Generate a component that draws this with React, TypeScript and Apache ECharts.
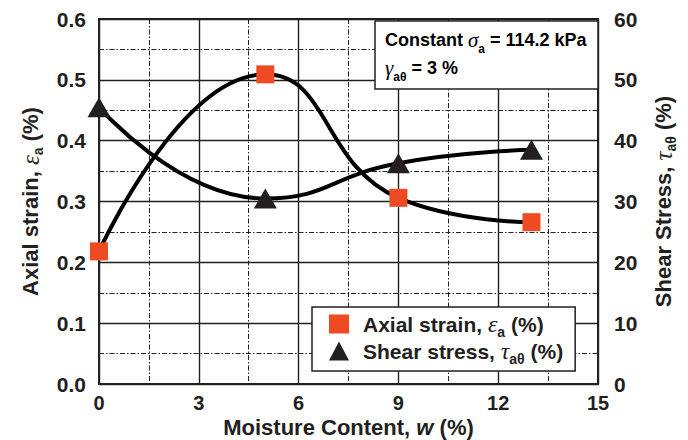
import React, { useEffect, useRef } from "react";
import * as echarts from "echarts";

const moisture = [0, 5, 9, 13];
const axialStrain = [0.218, 0.509, 0.306, 0.266];
const shearStress = [45.5, 30.5, 36.3, 38.5];

const INK = "#231F20";
const ORANGE = "#EF4B23";

const richSet = (size: number, sub: number, lh: number) => ({
  b: { fontFamily: "Liberation Sans", fontWeight: "bold", fontSize: size, color: INK, lineHeight: lh },
  p: { fontFamily: "Liberation Sans", fontWeight: "bold", fontSize: size, color: INK, lineHeight: lh, padding: [0, 0, 0, 9] },
  g: { fontFamily: "Liberation Serif", fontStyle: "italic", fontSize: size + 3, color: INK, lineHeight: lh },
  w: { fontFamily: "Liberation Sans", fontWeight: "bold", fontStyle: "italic", fontSize: size, color: INK, lineHeight: lh },
  s: { fontFamily: "Liberation Sans", fontWeight: "bold", fontSize: sub, color: INK, lineHeight: sub + 1, verticalAlign: "bottom" },
});

export default function App() {
  const ref = useRef<HTMLDivElement>(null);
  useEffect(() => {
    const chart = echarts.init(ref.current!, null, { renderer: "svg" });
    const labelStyle = { fontFamily: "Liberation Sans", fontWeight: "bold", fontSize: 21, color: INK };
    const gridLine = { show: true, lineStyle: { color: INK, width: 1.4, type: "solid" } };
    const minorLine = { show: true, lineStyle: { color: INK, width: 1, type: [5, 2, 1.5, 2] } };
    chart.setOption({
      animation: false,
      grid: {
        left: 99, top: 19, width: 499, height: 365, show: true,
        borderColor: INK, borderWidth: 2, backgroundColor: "transparent",
        containLabel: false, outerBoundsMode: "none",
      },
      xAxis: {
        type: "value", min: 0, max: 15, interval: 3,
        name: "{b|Moisture Content, }{w|w}{b| (%)}",
        nameLocation: "middle", nameGap: 32, nameMoveOverlap: false,
        nameTextStyle: { rich: richSet(22, 14, 22) },
        axisLine: { show: true, lineStyle: { color: INK, width: 2 } },
        axisTick: { show: false },
        axisLabel: { ...labelStyle, fontSize: 20, lineHeight: 22, margin: 8 },
        splitLine: gridLine,
        minorTick: { show: false, splitNumber: 2 },
        minorSplitLine: minorLine,
      },
      yAxis: [
        {
          type: "value", min: 0, max: 0.6, interval: 0.1, position: "left",
          name: "{b|Axial strain, }{g|ε}{s|a}{b| (%)}",
          nameLocation: "middle", nameRotate: 90, nameGap: 54,
          nameTextStyle: { rich: richSet(22, 14, 30) },
          axisLine: { show: true, lineStyle: { color: INK, width: 2 } },
          axisTick: { show: false },
          axisLabel: { ...labelStyle, margin: 13, formatter: (v: number) => v.toFixed(1) },
          splitLine: gridLine,
          minorTick: { show: false, splitNumber: 2 },
          minorSplitLine: minorLine,
        },
        {
          type: "value", min: 0, max: 60, interval: 10, position: "right",
          name: "{b|Shear Stress, }{g|τ}{s|aθ}{b| (%)}",
          nameLocation: "middle", nameRotate: 90, nameGap: 50,
          nameTextStyle: { rich: richSet(22, 14, 30) },
          axisLine: { show: true, lineStyle: { color: INK, width: 2 } },
          axisTick: { show: false },
          axisLabel: { ...labelStyle, margin: 16 },
          splitLine: { show: false },
        },
      ],
      legend: {
        orient: "vertical", left: 312, top: 307,
        padding: [5, 12, 5, 17], itemGap: 0,
        itemWidth: 20, itemHeight: 19,
        backgroundColor: "#fff", borderColor: INK, borderWidth: 1.5,
        data: [
          { name: "Axial strain", icon: "rect" },
          { name: "Shear stress", icon: "triangle" },
        ],
        formatter: (name: string) =>
          name === "Axial strain"
            ? "{p|Axial strain, }{g|ε}{s|a}{b| (%)}"
            : "{p|Shear stress, }{g|τ}{s|aθ}{b| (%)}",
        textStyle: { rich: richSet(21, 14, 30) },
      },
      graphic: [
        {
          type: "rect", z: 100,
          shape: { x: 375, y: 21, width: 223, height: 68 },
          style: { fill: "#fff", stroke: INK, lineWidth: 1.5 },
        },
        {
          type: "text", z: 101, x: 385, y: 40,
          style: {
            text: "{b|Constant }{g|σ}{s|a}{b| = 114.2 kPa}",
            rich: richSet(18, 12, 30),
            verticalAlign: "middle", align: "left",
          },
        },
        {
          type: "text", z: 101, x: 385, y: 68,
          style: {
            text: "{g|γ}{s|aθ}{b| = 3 %}",
            rich: richSet(18, 12, 30),
            verticalAlign: "middle", align: "left",
          },
        },
      ],
      series: [
        {
          name: "Axial strain", type: "line", yAxisIndex: 0, smooth: 0.5,
          data: moisture.map((x, i) => [x, axialStrain[i]]),
          symbol: "rect", symbolSize: 18,
          itemStyle: { color: ORANGE },
          lineStyle: { color: "#000", width: 4 },
          z: 3,
        },
        {
          name: "Shear stress", type: "line", yAxisIndex: 1, smooth: 0.5,
          data: moisture.map((x, i) => [x, shearStress[i]]),
          symbol: "triangle", symbolSize: [23, 20],
          itemStyle: { color: INK },
          lineStyle: { color: "#000", width: 4 },
          z: 3,
        },
      ],
    });
    return () => chart.dispose();
  }, []);
  return <div ref={ref} style={{ position: "absolute", left: 0, top: 0, width: 688, height: 440 }} />;
}
